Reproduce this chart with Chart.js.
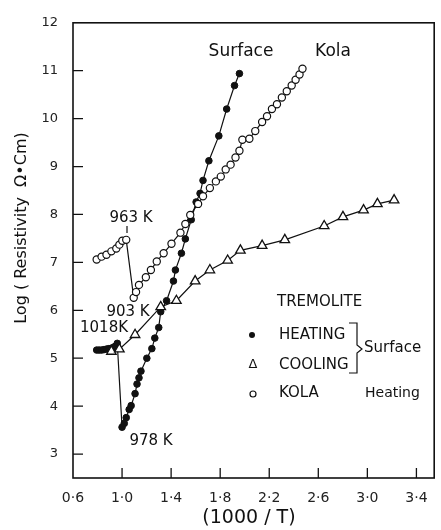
<!DOCTYPE html>
<html>
<head>
<meta charset="utf-8">
<script src="https://cdn.jsdelivr.net/npm/chart.js@4/dist/chart.umd.min.js"></script>
<style>
html,body{margin:0;padding:0;background:#fff;}
</style>
</head>
<body>
<canvas id="c" width="441" height="530"></canvas>
<script>
// surface, heating (filled dots)
const heatX = [0.793,0.813,0.833,0.853,0.873,0.893,0.913,0.933,0.945,0.961,1.0,1.018,1.034,1.058,1.074,1.106,1.122,1.138,1.154,1.202,1.243,1.267,1.299,1.315,1.363,1.419,1.435,1.484,1.516,1.564,1.604,1.636,1.66,1.708,1.789,1.853,1.917,1.957];
const heatY = [5.17,5.17,5.17,5.18,5.19,5.2,5.21,5.23,5.25,5.31,3.56,3.64,3.76,3.93,4.01,4.26,4.46,4.59,4.73,5.0,5.2,5.42,5.64,5.97,6.2,6.61,6.84,7.19,7.49,7.89,8.26,8.44,8.71,9.12,9.64,10.2,10.69,10.94];
// surface, cooling (triangles)
const coolX = [0.913,0.978,1.106,1.315,1.443,1.596,1.716,1.861,1.965,2.142,2.327,2.648,2.801,2.969,3.082,3.218];
const coolY = [5.14,5.19,5.49,6.07,6.2,6.61,6.84,7.04,7.25,7.35,7.47,7.76,7.95,8.09,8.22,8.3];
// kola, heating (open circles)
const kolaX = [0.793,0.833,0.873,0.913,0.953,0.978,1.002,1.034,1.095,1.114,1.138,1.194,1.235,1.283,1.339,1.403,1.476,1.516,1.556,1.62,1.66,1.716,1.765,1.805,1.845,1.885,1.925,1.957,1.981,2.038,2.086,2.142,2.182,2.222,2.263,2.303,2.343,2.383,2.415,2.447,2.471];
const kolaY = [7.06,7.12,7.16,7.23,7.29,7.37,7.45,7.47,6.26,6.38,6.53,6.69,6.84,7.02,7.19,7.39,7.62,7.8,7.99,8.22,8.38,8.55,8.69,8.79,8.94,9.04,9.19,9.33,9.56,9.58,9.74,9.93,10.05,10.2,10.3,10.44,10.57,10.69,10.81,10.92,11.04];

const xTicks = [0.6,1.0,1.4,1.8,2.2,2.6,3.0,3.4];
const yTicks = [3,4,5,6,7,8,9,10,11,12];

const FONT = '"DejaVu Sans", sans-serif';

function pts(xs, ys) {
  let out = [];
  for (let i = 0; i < xs.length; i++) out.push({x: xs[i], y: ys[i]});
  return out;
}

function txt(ctx, s, x, y, size, align) {
  ctx.font = size + 'px ' + FONT;
  ctx.textAlign = align || 'center';
  ctx.textBaseline = 'middle';
  ctx.fillText(s, x, y);
}

const frame = {
  id: 'frame',
  beforeDatasetsDraw(chart) {
    const ctx = chart.ctx, a = chart.chartArea;
    const xs = chart.scales.x, ys = chart.scales.y;
    ctx.save();
    ctx.strokeStyle = '#111';
    ctx.lineWidth = 1.6;
    ctx.strokeRect(a.left, a.top, a.right - a.left, a.bottom - a.top);
    ctx.lineWidth = 1.3;
    ctx.beginPath();
    xTicks.forEach(v => {
      if (v <= 0.6) return;
      let px = xs.getPixelForValue(v);
      ctx.moveTo(px, a.bottom); ctx.lineTo(px, a.bottom - 10);
    });
    yTicks.forEach(v => {
      if (v >= 12) return;
      let py = ys.getPixelForValue(v);
      ctx.moveTo(a.left, py); ctx.lineTo(a.left + 10, py);
    });
    ctx.stroke();
    ctx.restore();
  },
  afterDraw(chart) {
    const ctx = chart.ctx;
    ctx.save();
    ctx.fillStyle = '#111';
    ctx.strokeStyle = '#111';
    ctx.lineWidth = 1.2;
    txt(ctx, 'Surface', 241, 52, 17);
    txt(ctx, 'Kola', 333, 52, 17);
    txt(ctx, '963 K', 131, 218, 15);
    txt(ctx, '903 K', 128, 312, 15);
    txt(ctx, '1018K', 104, 328, 15);
    txt(ctx, '978 K', 151, 441, 15);
    ctx.beginPath();
    ctx.moveTo(127, 226); ctx.lineTo(127, 233);
    ctx.stroke();

    txt(ctx, 'TREMOLITE', 277, 302, 15, 'left');
    txt(ctx, 'HEATING', 279, 335, 15, 'left');
    txt(ctx, 'COOLING', 279, 365, 15, 'left');
    txt(ctx, 'KOLA', 279, 393, 15, 'left');
    txt(ctx, 'Surface', 364, 348, 15, 'left');
    txt(ctx, 'Heating', 365, 393, 14, 'left');
    ctx.beginPath();
    ctx.arc(252, 335, 3, 0, Math.PI * 2);
    ctx.fill();
    txt(ctx, 'Δ', 253, 365, 13);
    ctx.beginPath();
    ctx.arc(253, 394, 3, 0, Math.PI * 2);
    ctx.stroke();
    ctx.beginPath();
    ctx.moveTo(349, 323); ctx.lineTo(357, 323); ctx.lineTo(357, 345);
    ctx.lineTo(362, 349); ctx.lineTo(357, 353); ctx.lineTo(357, 373); ctx.lineTo(349, 373);
    ctx.stroke();

    txt(ctx, '(1000 / T)', 249, 518, 19);
    ctx.translate(22, 228);
    ctx.rotate(-Math.PI / 2);
    txt(ctx, 'Log ( Resistivity  Ω•Cm)', 0, 0, 16);
    ctx.restore();
  }
};

new Chart(document.getElementById('c'), {
  type: 'scatter',
  data: {
    datasets: [
      {
        label: 'KOLA Heating',
        data: pts(kolaX, kolaY),
        showLine: true,
        borderColor: '#111',
        borderWidth: 1.2,
        pointStyle: 'circle',
        pointRadius: 3.6,
        pointBackgroundColor: '#fff',
        pointBorderColor: '#111',
        pointBorderWidth: 1.2
      },
      {
        label: 'COOLING Surface',
        data: pts(coolX, coolY),
        showLine: true,
        borderColor: '#111',
        borderWidth: 1.2,
        pointStyle: 'triangle',
        pointRadius: 5.5,
        pointBackgroundColor: '#fff',
        pointBorderColor: '#111',
        pointBorderWidth: 1.3
      },
      {
        label: 'HEATING Surface',
        data: pts(heatX, heatY),
        showLine: true,
        borderColor: '#111',
        borderWidth: 1.2,
        pointStyle: 'circle',
        pointRadius: 3.3,
        pointBackgroundColor: '#111',
        pointBorderColor: '#111',
        pointBorderWidth: 1
      }
    ]
  },
  options: {
    responsive: false,
    animation: false,
    layout: {padding: {left: 0, right: 2, top: 17, bottom: 0}},
    plugins: {legend: {display: false}, tooltip: {enabled: false}},
    scales: {
      x: {
        type: 'linear',
        min: 0.6,
        max: 3.545,
        afterBuildTicks: s => { s.ticks = xTicks.map(v => ({value: v})); },
        afterFit: s => { s.height = 52; },
        grid: {display: false, drawTicks: false},
        border: {display: false},
        ticks: {
          padding: 12,
          color: '#222',
          font: {family: FONT, size: 14},
          callback: v => v.toFixed(1).replace('.', '·')
        }
      },
      y: {
        type: 'linear',
        min: 2.5,
        max: 12,
        afterBuildTicks: s => { s.ticks = yTicks.map(v => ({value: v})); },
        afterFit: s => { s.width = 73; },
        grid: {display: false, drawTicks: false},
        border: {display: false},
        ticks: {
          padding: 15,
          color: '#222',
          font: {family: FONT, size: 13},
          callback: v => String(v)
        }
      }
    }
  },
  plugins: [frame]
});
</script>
</body>
</html>
